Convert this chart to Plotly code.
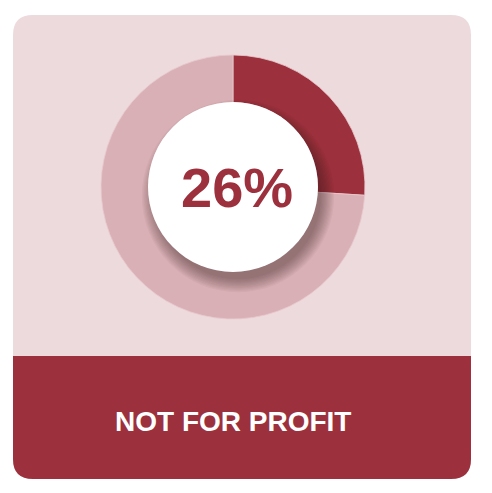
import plotly.graph_objects as go

# data
labels = ['Not for profit', 'Other']
values = [26, 74]
caption = 'NOT FOR PROFIT'

PAD = 8  # default body margin of the page
W, H = 492 - PAD, 493 - PAD
DARK = '#9C303D'
LIGHT = '#D9B0B5'
CARD = '#EDDADD'


def px(x):
    return (x - PAD) / W


def py(y):
    return 1 - (y - PAD) / H


def rounded_path(x0, y0, x1, y1, r_top, r_bot):
    # path in paper coords, pixel inputs (y down)
    def P(x, y):
        return f"{px(x):.5f},{py(y):.5f}"
    return (f"M {P(x0 + r_top, y0)} L {P(x1 - r_top, y0)} Q {P(x1, y0)} {P(x1, y0 + r_top)} "
            f"L {P(x1, y1 - r_bot)} Q {P(x1, y1)} {P(x1 - r_bot, y1)} "
            f"L {P(x0 + r_bot, y1)} Q {P(x0, y1)} {P(x0, y1 - r_bot)} "
            f"L {P(x0, y0 + r_top)} Q {P(x0, y0)} {P(x0 + r_top, y0)} Z")


cx, cy, R, r_in = 233, 187, 132, 85

fig = go.Figure()
fig.add_trace(go.Pie(
    labels=labels, values=values, sort=False, direction='clockwise', rotation=0,
    hole=0.64, marker=dict(colors=[DARK, LIGHT], line=dict(color='#E8C9CD', width=0.8)),
    textinfo='none', hoverinfo='skip', showlegend=False,
    domain=dict(x=[px(cx - R), px(cx + R)], y=[py(cy + R), py(cy - R)])
))

shapes = [
    # card background
    dict(type='path', path=rounded_path(13, 15, 471, 479, 20, 20), xref='paper', yref='paper',
         fillcolor=CARD, line=dict(width=0), layer='below'),
    # bottom band
    dict(type='path', path=rounded_path(13, 356, 471, 479, 0, 20), xref='paper', yref='paper',
         fillcolor=DARK, line=dict(width=0), layer='below'),
]

# soft shadow under the centre circle, falling to the lower right
for k in range(12):
    rr = r_in - 2 + k * 1.2
    ox, oy = 5, 9
    shapes.append(dict(type='circle', xref='paper', yref='paper',
                       x0=px(cx + ox - rr), x1=px(cx + ox + rr),
                       y0=py(cy + oy + rr), y1=py(cy + oy - rr),
                       fillcolor='rgba(60,20,25,0.04)', line=dict(width=0), layer='above'))

shapes.append(dict(type='circle', xref='paper', yref='paper',
                   x0=px(cx - r_in), x1=px(cx + r_in), y0=py(cy + r_in), y1=py(cy - r_in),
                   fillcolor='white', line=dict(width=0), layer='above'))

fig.update_layout(
    width=W, height=H, margin=dict(l=0, r=0, t=0, b=0),
    paper_bgcolor='white', plot_bgcolor='rgba(0,0,0,0)',
    shapes=shapes,
    font=dict(family='Arial, Liberation Sans, sans-serif'),
    annotations=[
        dict(text=f"<b>{values[0]}%</b>", x=px(237), y=py(187), xref='paper', yref='paper',
             showarrow=False, xanchor='center', yanchor='middle',
             font=dict(size=56, color=DARK, family='Arial, Liberation Sans, sans-serif')),
        dict(text=f"<b>{caption}</b>", x=px(233), y=py(421), xref='paper', yref='paper',
             showarrow=False, xanchor='center', yanchor='middle',
             font=dict(size=28, color='white', family='Arial, Liberation Sans, sans-serif')),
    ],
)

fig.write_html("out.html")
